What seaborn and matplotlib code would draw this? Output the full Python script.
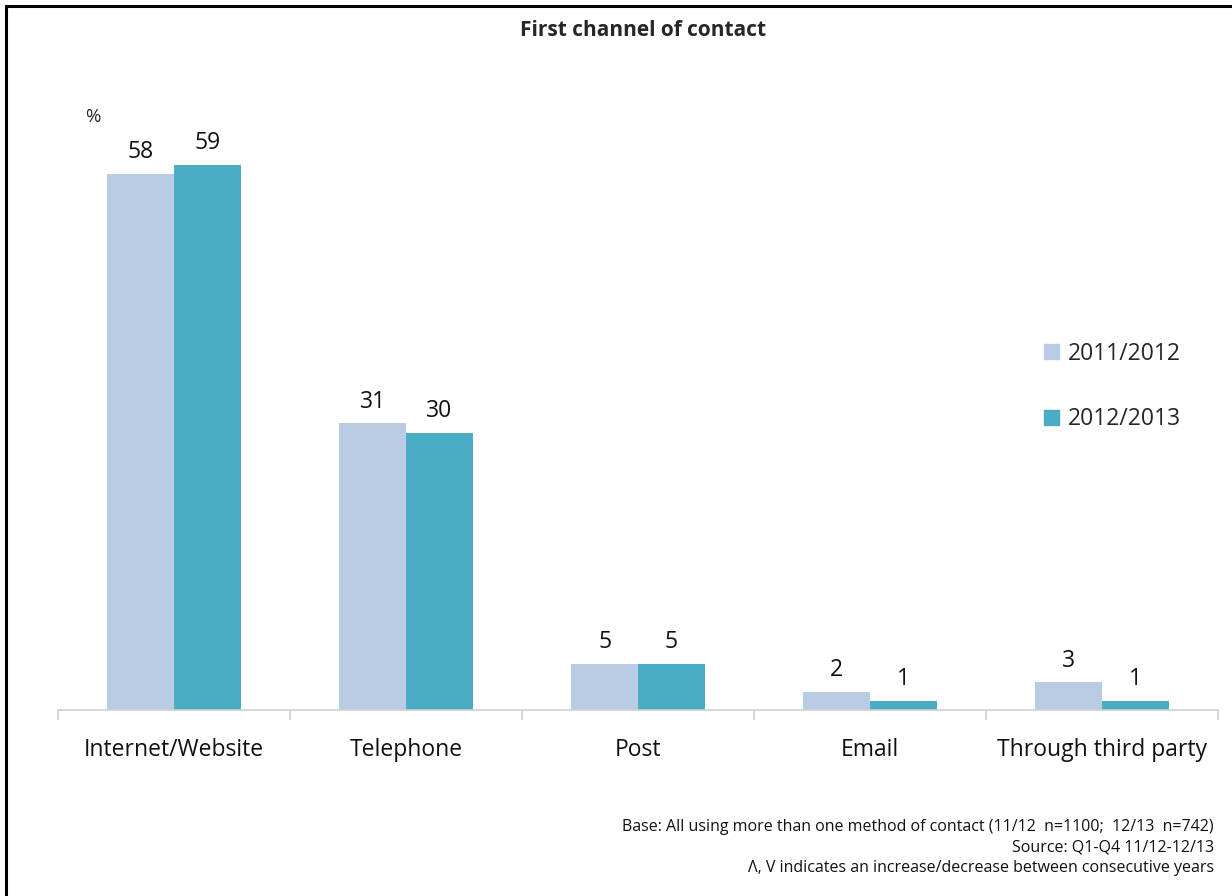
import matplotlib
matplotlib.use("Agg")
import matplotlib.pyplot as plt
import matplotlib.patches as mpatches
import seaborn as sns
import pandas as pd

categories = ["Internet/Website", "Telephone", "Post", "Email", "Through third party"]
years = ["2011/2012", "2012/2013"]
values_2011 = [58, 31, 5, 2, 3]
values_2012 = [59, 30, 5, 1, 1]
colors = ["#B9CCE4", "#4BACC6"]

title = "First channel of contact"
footnotes = [
    "Base: All using more than one method of contact (11/12  n=1100;  12/13  n=742)",
    "Source: Q1-Q4 11/12-12/13",
    "\u039b, V indicates an increase/decrease between consecutive years",
]

df = pd.DataFrame({
    "channel": categories * 2,
    "year": [years[0]] * len(categories) + [years[1]] * len(categories),
    "pct": values_2011 + values_2012,
})

sns.set_theme(style="white")
plt.rcParams["font.family"] = ["Open Sans", "DejaVu Sans"]

W, H = 1232, 896
fig = plt.figure(figsize=(W / 100, H / 100), dpi=100)
ax = fig.add_axes([58 / W, 1 - 710 / H, 1160 / W, 610 / H])

sns.barplot(data=df, x="channel", y="pct", hue="year", order=categories,
            hue_order=years, palette=colors, width=0.575, gap=0,
            saturation=1, linewidth=0, ax=ax, legend=False)

ax.set_xlim(-0.5, len(categories) - 0.5)
ax.set_ylim(0, 66)
ax.set_xlabel("")
ax.set_ylabel("")
ax.set_yticks([])
for s in ["top", "right", "left"]:
    ax.spines[s].set_visible(False)
ax.spines["bottom"].set_color("#D0D0D0")
ax.spines["bottom"].set_linewidth(1.2)

ax.set_xticks(range(len(categories)))
ax.set_xticklabels(categories, fontsize=16.5, color="#111111")
ax.tick_params(axis="x", which="major", length=0, pad=20)
ax.set_xticks([i - 0.5 for i in range(len(categories) + 1)], minor=True)
ax.tick_params(axis="x", which="minor", bottom=True, length=7, width=1.2,
               color="#D0D0D0", direction="out")

for container in ax.containers:
    ax.bar_label(container, fmt="%d", fontsize=16.5, padding=7, color="#111111")

fig.text(93 / W, 1 - 117 / H, "%", fontsize=13.5, ha="center", va="center")
fig.text(643 / W, 1 - 31 / H, title, fontsize=15, fontweight="bold",
         ha="center", va="center")

handles = [mpatches.Patch(color=c, label=y) for c, y in zip(colors, years)]
fig.legend(handles=handles, loc="upper left", bbox_to_anchor=(1023 / W, 1 - 321 / H),
           frameon=False, fontsize=16.5, handlelength=0.65, handleheight=0.65,
           handletextpad=0.4, labelspacing=1.82)

for i, line in enumerate(footnotes):
    fig.text(1214 / W, 1 - (827 + 20.5 * i) / H, line, fontsize=11.5,
             ha="right", va="center", color="#111111")

# frame around the chart area
fig.add_artist(mpatches.Rectangle((6 / W, -0.05), 1.1, 1 - 6 / H + 0.05,
                                  transform=fig.transFigure, fill=False,
                                  edgecolor="black", linewidth=2.2))

fig.savefig("out.png", dpi=100)
